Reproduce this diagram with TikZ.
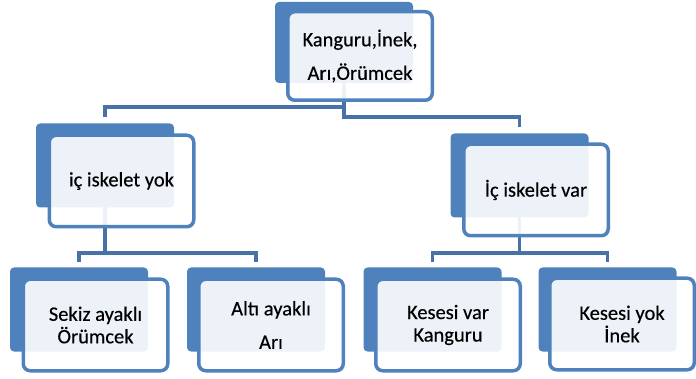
\documentclass[tikz,border=0pt]{standalone}
\usepackage{fontspec}
\setmainfont[FakeBold=0.4]{Carlito}
\definecolor{boxblue}{HTML}{4F81BD}
\definecolor{lineblue}{HTML}{4672A8}
\tikzset{
  backbox/.style={draw=none, fill=boxblue, rounded corners=4pt, minimum width=138pt, minimum height=84pt, inner sep=0pt, outer sep=0pt},
  frontbox/.style={draw=boxblue, line width=3.5pt, fill=white, fill opacity=0.9, text opacity=1, rounded corners=7pt, minimum width=144.5pt, minimum height=91.5pt, inner sep=0pt, outer sep=0pt, align=center, text=black},
  conn/.style={draw=lineblue, line width=3.8pt},
  wide/.style={font=\fontsize{20.5}{33.5}\selectfont},
  tight/.style={font=\fontsize{20.5}{22.5}\selectfont}
}
\begin{document}
\begin{tikzpicture}[x=1pt,y=-1pt]
\useasboundingbox (0,0) rectangle (696,379);
% back boxes
\node[backbox, minimum height=81pt] (tb) at (344,42.5) {};
\node[backbox] (mlb) at (105,165.5) {};
\node[backbox] (mrb) at (519.5,175.5) {};
\node[backbox] (b1b) at (79,309.5) {};
\node[backbox] (b2b) at (256,309.5) {};
\node[backbox] (b3b) at (432.5,309.5) {};
\node[backbox] (b4b) at (607.5,309.5) {};
% connectors
\coordinate (tj1) at (tb.south |- 0,107);
\coordinate (tj2) at (tb.south |- 0,117);
\draw[conn] (tb.south) -- (tj1) -| ([yshift=6pt]mlb.north);
\draw[conn] (tj1) -- (tj2) -| ([yshift=6pt]mrb.north);
\coordinate (mlj) at (mlb.south |- 0,253);
\coordinate (mrj) at (mrb.south |- 0,253);
\draw[conn] (mlb.south) -- (mlj) -| ([yshift=5pt]b1b.north);
\draw[conn] (mlj) -| ([yshift=5pt]b2b.north);
\draw[conn] (mrb.south) -- (mrj) -| ([yshift=5pt]b3b.north);
\draw[conn] (mrj) -| ([yshift=5pt]b4b.north);
% front boxes
\node[frontbox, wide, minimum height=88.5pt] (tf) at (360,56) {Kanguru,İnek,\\Arı,Örümcek};
\node[frontbox, tight] (mlf) at (121.5,181) {iç iskelet yok};
\node[frontbox, tight] (mrf) at (536,190) {İç iskelet var};
\node[frontbox, tight] (b1f) at (95.5,325) {Sekiz ayaklı\\Örümcek};
\node[frontbox, wide] (b2f) at (271,325) {Altı ayaklı\\Arı};
\node[frontbox, tight] (b3f) at (448,325) {Kesesi var\\Kanguru};
\node[frontbox, tight] (b4f) at (622,324) {Kesesi yok\\İnek};
\end{tikzpicture}
\end{document}
